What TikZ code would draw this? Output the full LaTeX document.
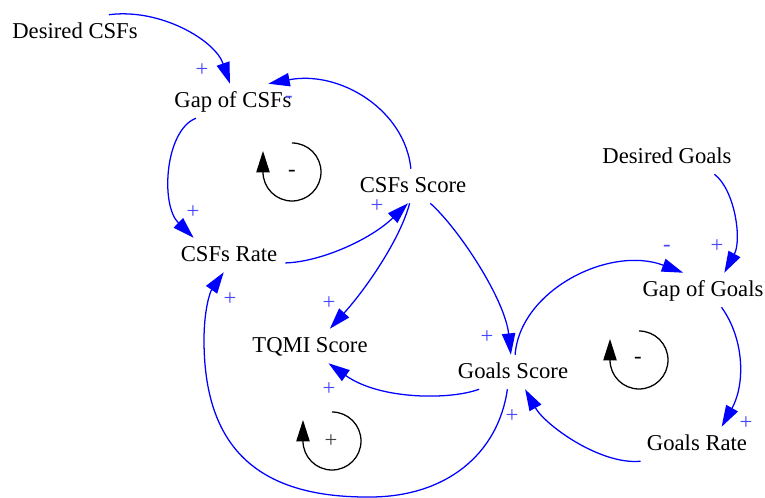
\documentclass[tikz,border=0pt]{standalone}
\usepackage{fontspec}
\setmainfont{Liberation Serif}
\usetikzlibrary{arrows.meta}
\definecolor{labblue}{RGB}{70,70,255}
\tikzset{
  var/.style={inner xsep=6pt, inner ysep=0pt, minimum height=25.5pt,
    text height=11.5pt, text depth=1pt, font=\fontsize{17}{20}\selectfont},
  edge/.style={draw=blue, line width=0.95pt, -{Triangle[length=16pt,width=10pt]}},
  lab/.style={text=labblue, inner sep=0pt, font=\fontsize{17}{20}\selectfont},
  loopline/.style={draw=black, line width=0.95pt, -{Triangle[length=16pt,width=10pt]}},
  looplab/.style={text=black, inner sep=0pt, font=\fontsize{17}{20}\selectfont}
}
\begin{document}
\begin{tikzpicture}[x=0.75pt,y=-0.75pt]
\useasboundingbox (0,0) rectangle (765,498);
% variables
\node[var] (dcsf) at (75,32) {Desired CSFs};
\node[var] (gapcsf) at (233,101) {Gap of CSFs};
\node[var] (csfscore) at (413,186) {CSFs Score};
\node[var] (csfrate) at (229,255) {CSFs Rate};
\node[var] (tqmi) at (310,346) {TQMI Score};
\node[var] (gscore) at (513,372) {Goals Score};
\node[var] (dgoals) at (667,157) {Desired Goals};
\node[var] (gapgoals) at (703,290) {Gap of Goals};
\node[var] (grate) at (697,444) {Goals Rate};
% connectors
\draw[edge] (dcsf.27) .. controls (160,8) and (215,40) .. (gapcsf.100);
\draw[edge] (csfscore.97) .. controls (405,110) and (340,70) .. (gapcsf.26);
\draw[edge] (gapcsf.205) .. controls (165,130) and (160,205) .. (csfrate.154);
\draw[edge] (csfrate.-8) .. controls (320,262) and (370,240) .. (csfscore.-106);
\draw[edge] (csfscore.-101) .. controls (400,240) and (365,290) .. (tqmi.41);
\draw[edge] (csfscore.-45) .. controls (460,230) and (505,300) .. (gscore.97);
\draw[edge] (gscore.83) .. controls (520,290) and (610,245) .. (gapgoals.139);
\draw[edge] (dgoals.-20) .. controls (735,190) and (742,240) .. (gapgoals.39);
\draw[edge] (gapgoals.-43) .. controls (745,340) and (745,385) .. (grate.35);
\draw[edge] (grate.197) .. controls (600,465) and (545,425) .. (gscore.-55);
\draw[edge] (gscore.207) .. controls (450,400) and (380,400) .. (tqmi.-43);
\draw[edge] (gscore.252) .. controls (498,455) and (445,497) .. (370,497)
   .. controls (255,498) and (204,445) .. (204,340)
   .. controls (204,310) and (210,292) .. (csfrate.253);
% polarity labels
\node[lab] (p1) at (202,70) {+};
\node[lab] (p2) at (289,99) {-};
\node[lab] (p3) at (193,212) {+};
\node[lab] (p4) at (377,206) {+};
\node[lab] (p5) at (329,303) {+};
\node[lab] (p6) at (487,337) {+};
\node[lab] (p7) at (667,248) {-};
\node[lab] (p8) at (717,246) {+};
\node[lab] (p9) at (746,423) {+};
\node[lab] (p10) at (512,416) {+};
\node[lab] (p11) at (329,389) {+};
\node[lab] (p12) at (230,299) {+};
% loop markers
\draw[loopline] (292,143) arc[start angle=90,end angle=-180,radius=21.75pt] -- ++(0,-21);
\node[looplab] (loop1) at (292,173) {-};
\draw[loopline] (639,331) arc[start angle=90,end angle=-180,radius=21.75pt] -- ++(0,-21);
\node[looplab] (loop2) at (638,360) {-};
\draw[loopline] (332,412) arc[start angle=90,end angle=-180,radius=21.75pt] -- ++(0,-21);
\node[looplab,text=black!75] (loop3) at (331,441) {+};
\end{tikzpicture}
\end{document}
